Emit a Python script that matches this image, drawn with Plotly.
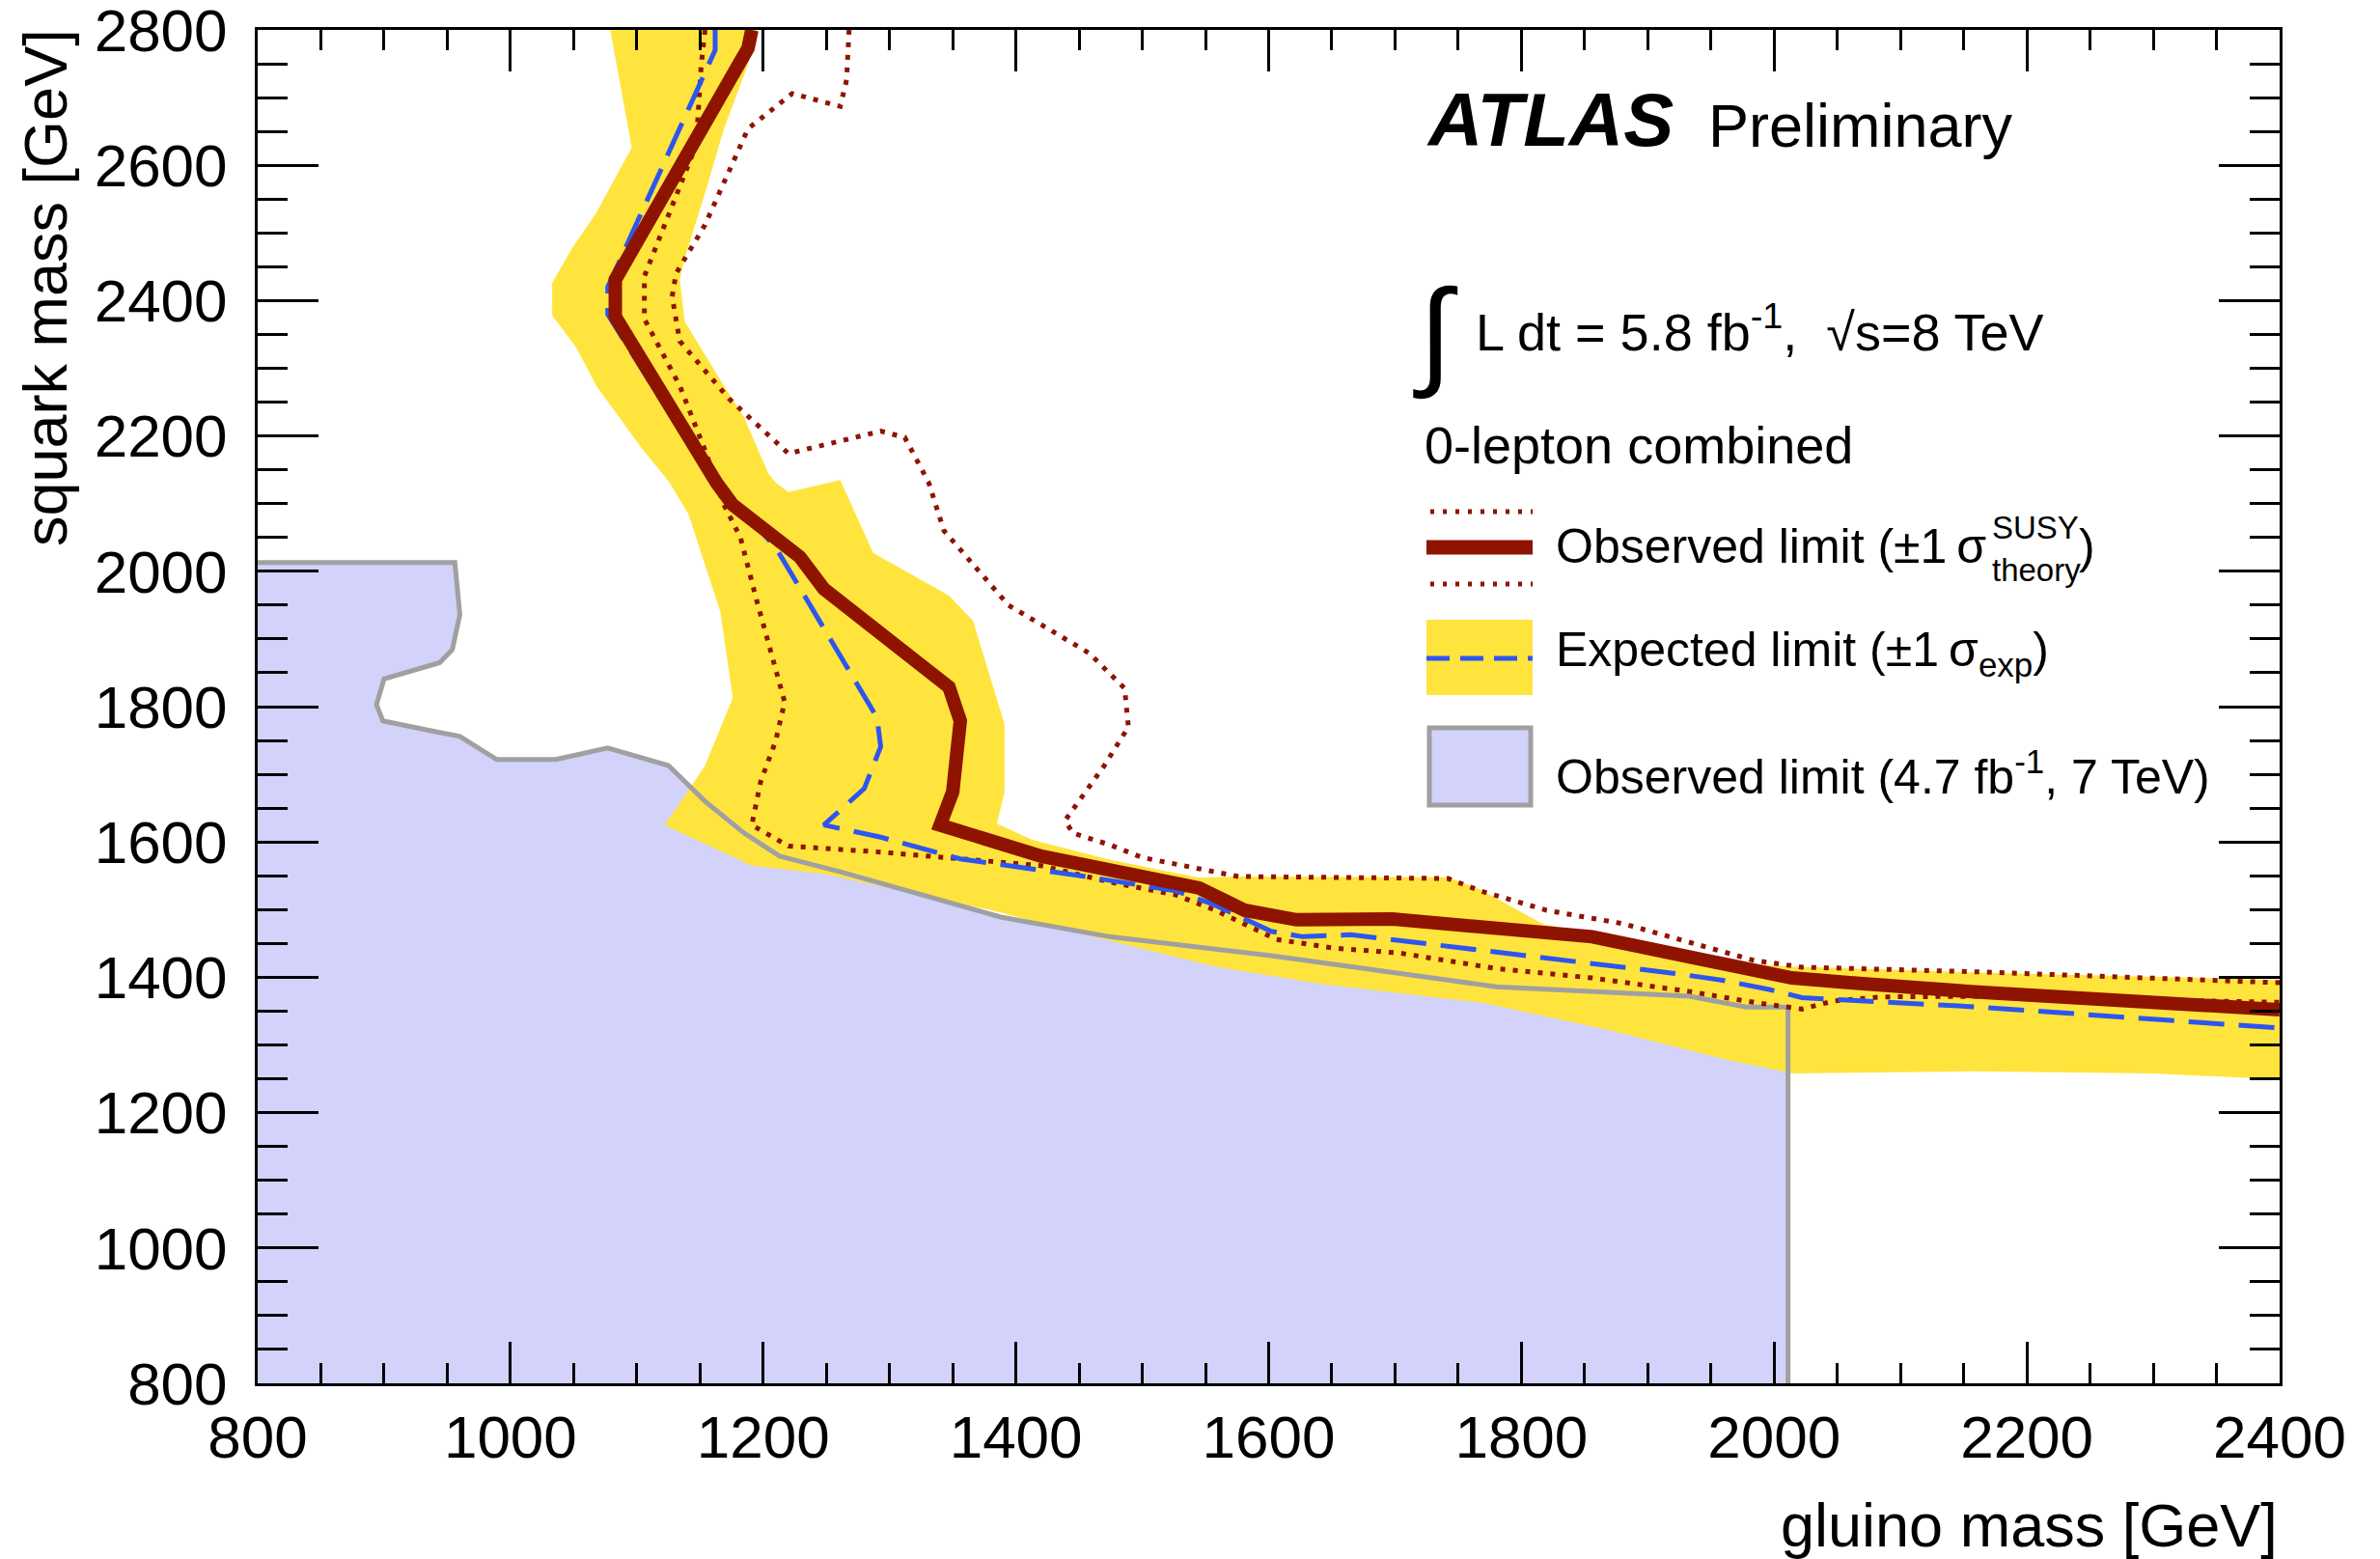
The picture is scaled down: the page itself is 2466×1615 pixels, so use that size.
import plotly.graph_objects as go

# ---------------- data (GeV) ----------------
obs_x = [1191, 1188, 1083, 1083, 1163, 1176, 1229, 1248, 1347, 1356, 1350, 1340, 1420, 1480,
         1545, 1581, 1622, 1698, 1742, 1818, 1856, 1902, 2014, 2060, 2162, 2400]
obs_y = [2800, 2773, 2431, 2376, 2131, 2098, 2021, 1974, 1829, 1779, 1674, 1625, 1579, 1558,
         1532, 1499, 1485, 1486, 1480, 1468, 1460, 1442, 1399, 1392, 1378, 1352]

exp_x = [1162, 1162, 1077, 1077, 1160, 1191, 1210, 1255, 1290, 1293, 1280, 1248, 1293, 1356,
         1451, 1526, 1556, 1602, 1627, 1665, 1742, 1849, 1920, 1958, 1996, 2022, 2060, 2162, 2400]
exp_y = [2800, 2770, 2420, 2380, 2131, 2074, 2035, 1893, 1784, 1741, 1679, 1625, 1607, 1575,
         1550, 1528, 1508, 1468, 1460, 1463, 1446, 1422, 1406, 1396, 1382, 1370, 1366, 1356, 1325]

obs_up_x = [1268, 1266, 1261, 1223, 1188, 1154, 1131, 1128, 1134, 1173, 1220, 1293, 1312, 1331,
            1343, 1394, 1458, 1486, 1489, 1470, 1439, 1445, 1474, 1500, 1576, 1742, 1767, 1820,
            1881, 1984, 2022, 2162, 2400]
obs_up_y = [2800, 2726, 2687, 2706, 2654, 2512, 2440, 2406, 2340, 2255, 2174, 2207, 2198, 2131,
            2060, 1950, 1879, 1827, 1770, 1713, 1632, 1613, 1596, 1577, 1549, 1546, 1528, 1499,
            1479, 1425, 1415, 1408, 1392]

obs_dn_x = [1154, 1151, 1147, 1122, 1106, 1106, 1134, 1154, 1169, 1182, 1195, 1217, 1210, 1198,
            1191, 1220, 1293, 1420, 1474, 1526, 1558, 1606, 1652, 1703, 1780, 1856, 1933, 1984,
            2022, 2047, 2085, 2162, 2400]
obs_dn_y = [2800, 2749, 2630, 2512, 2436, 2373, 2274, 2179, 2098, 2050, 1956, 1807, 1750, 1689,
            1625, 1594, 1585, 1565, 1541, 1522, 1499, 1456, 1443, 1436, 1413, 1399, 1379, 1363,
            1353, 1365, 1371, 1372, 1363]

# +-1 sigma expected band, outline: left edge (top->bottom), lower edge, right edge (bottom->top)
band_left_x = [1079, 1096, 1068, 1049, 1033, 1033, 1052, 1068, 1103, 1126, 1141, 1166, 1176, 1154, 1135, 1122]
band_left_y = [2800, 2626, 2530, 2478, 2426, 2378, 2331, 2274, 2184, 2131, 2084, 1941, 1813, 1713, 1660, 1625]
band_low_x = [1191, 1248, 1381, 1450, 1560, 1646, 1770, 1869, 1963, 2015, 2156, 2299, 2400]
band_low_y = [1565, 1553, 1499, 1465, 1415, 1389, 1362, 1322, 1278, 1258, 1261, 1258, 1249]
band_right_x = [2400, 2162, 2014, 1980, 1900, 1818, 1767, 1742, 1576, 1545, 1474, 1413, 1385, 1391,
                1391, 1366, 1347, 1287, 1261, 1220, 1210, 1204, 1185, 1169, 1138, 1134, 1138,
                1154, 1169, 1188, 1195]
band_right_y = [1396, 1407, 1416, 1420, 1450, 1478, 1530, 1548, 1549, 1547, 1574, 1603, 1627, 1674,
                1774, 1927, 1964, 2027, 2135, 2117, 2131, 2145, 2227, 2274, 2369, 2431, 2463,
                2559, 2654, 2749, 2800]

# previous observed limit (4.7 fb-1, 7 TeV)
old_x = [800, 956, 960, 954, 944, 900, 894, 899, 941, 960, 989, 1036, 1077, 1125, 1154, 1185,
         1213, 1261, 1388, 1474, 1602, 1780, 1933, 1978, 2011, 2011]
old_y = [2013, 2013, 1936, 1884, 1865, 1841, 1803, 1779, 1763, 1756, 1722, 1722, 1739, 1713, 1660,
         1613, 1579, 1556, 1489, 1460, 1432, 1386, 1372, 1356, 1356, 800]

x_range = [800, 2400]
y_range = [800, 2800]
x_ticks = [800, 1000, 1200, 1400, 1600, 1800, 2000, 2200, 2400]
y_ticks = [800, 1000, 1200, 1400, 1600, 1800, 2000, 2200, 2400, 2600, 2800]

# ---------------- style ----------------
RED = "rgb(142,20,0)"
BLUE = "rgb(45,85,240)"
YELLOW = "rgb(255,228,62)"
LAV = "rgb(210,210,251)"
GREY = "rgb(160,160,160)"
FONT = "Liberation Sans, Arial, Helvetica, sans-serif"

W, H = 2466, 1615
PX0, PX1, PY0, PY1 = 267, 2362, 31, 1433


def px(x):
    return (x - PX0) / (PX1 - PX0)


def py(y):
    return (PY1 - y) / (PY1 - PY0)


fig = go.Figure()

# lavender fill of old limit
fig.add_trace(go.Scatter(x=old_x + [old_x[-1], old_x[0]], y=old_y + [y_range[0], y_range[0]],
                         mode="lines", fill="toself", fillcolor=LAV, line=dict(width=0),
                         hoverinfo="skip", showlegend=False))
# yellow band
fig.add_trace(go.Scatter(x=band_left_x + band_low_x + band_right_x,
                         y=band_left_y + band_low_y + band_right_y,
                         mode="lines", fill="toself", fillcolor=YELLOW, line=dict(width=0),
                         hoverinfo="skip", showlegend=False))
# grey outline of old limit
fig.add_trace(go.Scatter(x=old_x, y=old_y, mode="lines", line=dict(color=GREY, width=5),
                         hoverinfo="skip", showlegend=False))
# theory +-1 sigma dotted
for xs, ys in ((obs_up_x, obs_up_y), (obs_dn_x, obs_dn_y)):
    fig.add_trace(go.Scatter(x=xs, y=ys, mode="lines",
                             line=dict(color=RED, width=5, dash="5px,8px"),
                             hoverinfo="skip", showlegend=False))
# expected
fig.add_trace(go.Scatter(x=exp_x, y=exp_y, mode="lines",
                         line=dict(color=BLUE, width=5, dash="37px,15px"),
                         hoverinfo="skip", showlegend=False))
# observed
fig.add_trace(go.Scatter(x=obs_x, y=obs_y, mode="lines", line=dict(color=RED, width=14),
                         hoverinfo="skip", showlegend=False))

axis_common = dict(showgrid=False, zeroline=False, showline=True, linecolor="black", linewidth=3,
                   mirror="allticks", ticks="inside", tickwidth=3, tickcolor="black",
                   ticklabeloverflow="allow", automargin=False,
                   tickfont=dict(family=FONT, size=62, color="black"))

fig.update_xaxes(range=x_range, tickvals=x_ticks, ticklen=43,
                 minor=dict(ticks="inside", dtick=50, ticklen=21, tickwidth=3, tickcolor="black"),
                 ticklabelstandoff=0, **axis_common)
fig.update_yaxes(range=y_range, tickvals=y_ticks, ticklen=63,
                 minor=dict(ticks="inside", dtick=50, ticklen=31, tickwidth=3, tickcolor="black"),
                 ticklabelstandoff=16, **axis_common)

shapes = []
# legend symbols
shapes.append(dict(type="line", xref="paper", yref="paper", x0=px(1482), x1=px(1588), y0=py(530), y1=py(530),
                   line=dict(color=RED, width=5, dash="4px,9px")))
shapes.append(dict(type="line", xref="paper", yref="paper", x0=px(1478), x1=px(1588), y0=py(567), y1=py(567),
                   line=dict(color=RED, width=15)))
shapes.append(dict(type="line", xref="paper", yref="paper", x0=px(1482), x1=px(1588), y0=py(605), y1=py(605),
                   line=dict(color=RED, width=5, dash="4px,9px")))
shapes.append(dict(type="rect", xref="paper", yref="paper", x0=px(1478), x1=px(1588), y0=py(720), y1=py(642),
                   fillcolor=YELLOW, line=dict(width=0)))
shapes.append(dict(type="line", xref="paper", yref="paper", x0=px(1478), x1=px(1588), y0=py(682), y1=py(682),
                   line=dict(color=BLUE, width=5, dash="24px,11px")))
shapes.append(dict(type="rect", xref="paper", yref="paper", x0=px(1481), x1=px(1586), y0=py(834), y1=py(754),
                   fillcolor=LAV, line=dict(color=GREY, width=5)))

ann = []


def txt(text, x, y, size, xanchor="left", yanchor="middle", **kw):
    ann.append(dict(text=text, xref="paper", yref="paper", x=px(x), y=py(y), xanchor=xanchor,
                    yanchor=yanchor, showarrow=False, font=dict(family=FONT, size=size, color="black"), **kw))


TS = "\u2009"  # thin space
txt("<b><i>ATLAS</i></b>", 1476, 124, 78)
txt("Preliminary", 1768, 130, 63)
txt("∫", 1462, 345, 124)
txt("L dt = 5.8 fb<sup>-1</sup>,  √s=8 TeV", 1527, 340, 54)
txt("0-lepton combined", 1474, 461, 54)
txt("Observed limit (±1" + TS + "σ", 1610, 566, 50)
txt("SUSY", 2062, 546, 33)
txt("theory", 2062, 590, 33)
txt(")", 2152, 566, 50)
txt("Expected limit (±1" + TS + "σ<sub>exp</sub>)", 1610, 676, 50)
txt("Observed limit (4.7 fb<sup>-1</sup>, 7 TeV)", 1610, 801, 50)
# axis titles
txt("gluino mass [GeV]", 2362, 1580, 63, xanchor="right")
txt("squark mass [GeV]", 47, 28, 63, xanchor="center", yanchor="top", textangle=-90)

fig.update_layout(width=W, height=H, margin=dict(l=PX0, r=W - PX1, t=PY0, b=H - PY1, autoexpand=False),
                  plot_bgcolor="white", paper_bgcolor="white", shapes=shapes, annotations=ann,
                  showlegend=False)

fig.write_html("out.html")
